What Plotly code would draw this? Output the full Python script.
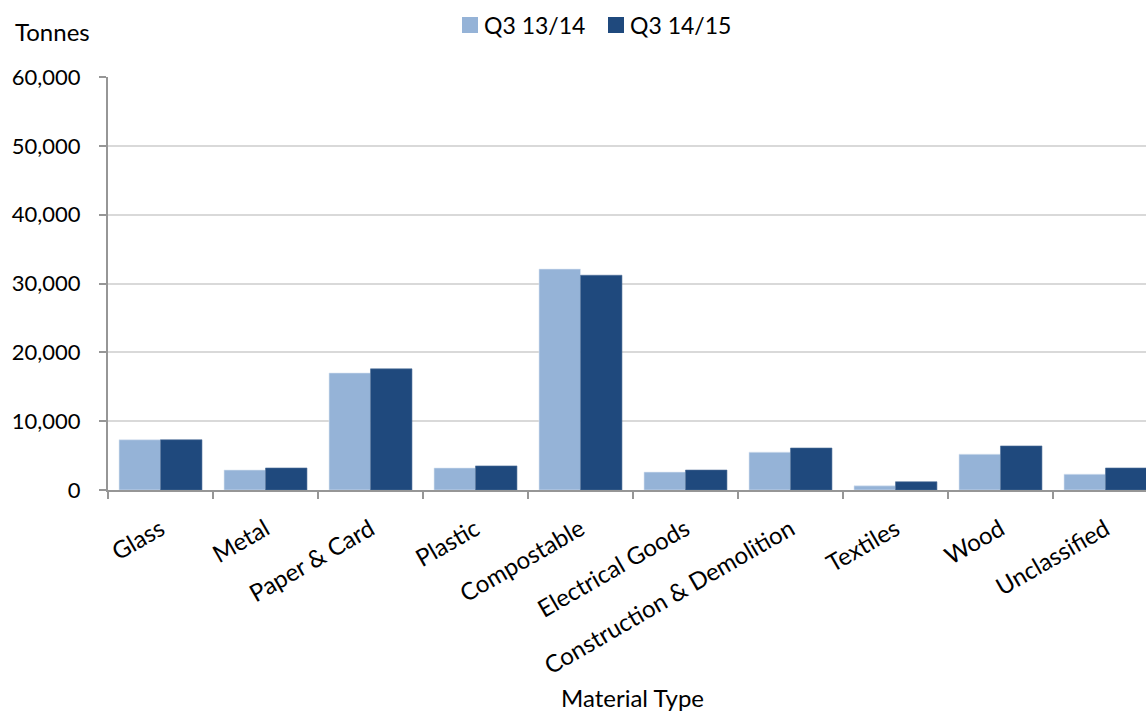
import plotly.graph_objects as go

# Tonnes collected by material type, Q3 of each year
materials = ["Glass", "Metal", "Paper & Card", "Plastic", "Compostable",
             "Electrical Goods", "Construction & Demolition", "Textiles",
             "Wood", "Unclassified"]
q3_1314 = [7300, 2900, 17000, 3200, 32100, 2600, 5500, 600, 5200, 2300]
q3_1415 = [7300, 3200, 17600, 3500, 31200, 2900, 6100, 1200, 6400, 3200]
series_names = ["Q3 13/14", "Q3 14/15"]
y_ticks = [0, 10000, 20000, 30000, 40000, 50000, 60000]
y_tick_labels = ["0", "10,000", "20,000", "30,000", "40,000", "50,000", "60,000"]

FONT = "Lato"
LIGHT = "#95B3D7"
DARK = "#1F497D"

W, H = 1146, 715
L, R, T, B = 108, 0, 77, 225
plot_w = W - L - R
plot_h = H - T - B


def px_x(x):
    return (x - L) / plot_w


def px_y(y):
    return (H - B - y) / plot_h


fig = go.Figure()
fig.add_trace(go.Bar(name=series_names[0], x=materials, y=q3_1314,
                     marker=dict(color=LIGHT, line=dict(color="#DCE6F2", width=0.6))))
fig.add_trace(go.Bar(name=series_names[1], x=materials, y=q3_1415,
                     marker=dict(color=DARK, line=dict(color="#4F6F98", width=0.6))))

fig.update_layout(
    width=W, height=H,
    margin=dict(l=L, r=R, t=T, b=B),
    paper_bgcolor="white", plot_bgcolor="white",
    barmode="group", bargap=0.21, bargroupgap=0,
    font=dict(family=FONT, size=22, color="black"),
    showlegend=False,
    xaxis=dict(
        type="category", range=[-0.5, 9.386],
        showline=True, linecolor="#969696", linewidth=2,
        ticks="outside", ticklen=7, tickcolor="#969696", tickwidth=1.5,
        tickson="boundaries", tickangle=-30, ticklabelstandoff=14,
        tickfont=dict(family=FONT, size=24),
        showgrid=False, zeroline=False,
    ),
    yaxis=dict(
        range=[0, 60000], tickvals=y_ticks, ticktext=y_tick_labels,
        showline=True, linecolor="#969696", linewidth=2,
        ticks="outside", ticklen=7, tickcolor="#969696", tickwidth=1.5,
        ticklabelstandoff=14,
        showgrid=True, gridcolor="#D9D9D9", gridwidth=2,
        zeroline=False, tickfont=dict(family=FONT, size=22),
    ),
)

# Axis titles
fig.add_annotation(text="Tonnes", x=px_x(13), y=px_y(32), xref="paper", yref="paper",
                   showarrow=False, font=dict(family=FONT, size=24),
                   xanchor="left", yanchor="middle")
fig.add_annotation(text="Material Type", x=px_x(632), y=px_y(714),
                   xref="paper", yref="paper", showarrow=False,
                   font=dict(family=FONT, size=24),
                   xanchor="center", yanchor="bottom")

# Legend: square swatch followed by series name
legend_items = [(series_names[0], LIGHT, 462), (series_names[1], DARK, 608)]
for name, color, left in legend_items:
    fig.add_shape(type="rect", xref="paper", yref="paper",
                  x0=px_x(left), x1=px_x(left + 16),
                  y0=px_y(33), y1=px_y(17),
                  fillcolor=color, line=dict(width=0))
    fig.add_annotation(text=name, x=px_x(left + 20), y=px_y(25),
                       xref="paper", yref="paper", showarrow=False,
                       font=dict(family=FONT, size=23),
                       xanchor="left", yanchor="middle")

fig.write_html("out.html")
